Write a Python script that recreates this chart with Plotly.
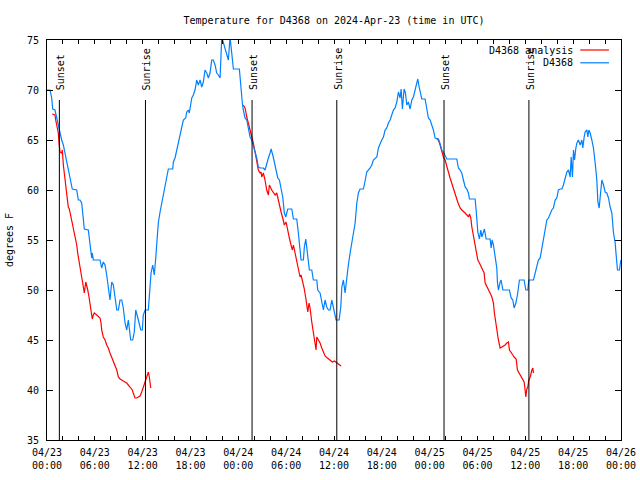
import pandas as pd
import plotly.graph_objects as go

# ---------------- data ----------------
start = pd.Timestamp("2024-04-23 00:00")

obs_hours = [0.00, 0.38, 0.59, 0.72, 1.00, 1.22, 1.42, 1.63, 1.84, 2.05, 2.26, 2.47, 2.67, 2.89, 3.17, 3.73,
             3.93, 4.14, 4.35, 4.48, 4.68, 5.18, 5.40, 5.61, 5.68, 5.81, 6.65, 6.86, 7.06, 7.28, 7.49, 7.69,
             7.90, 8.12, 8.32, 8.53, 8.75, 8.95, 9.16, 9.37, 9.57, 9.79, 10.00, 10.20, 10.41, 10.50, 10.75,
             10.95, 11.13, 11.25, 11.46, 11.76, 11.96, 12.08, 12.30, 12.71, 12.84, 13.05, 13.26, 13.46, 13.64,
             13.76, 13.96, 14.18, 14.39, 14.59, 14.81, 15.02, 15.22, 15.77, 15.85, 16.06, 16.27, 16.47, 16.69,
             16.90, 17.10, 17.40, 17.53, 17.73, 17.85, 18.16, 18.36, 18.57, 18.78, 18.98, 19.20, 19.41, 19.61,
             19.82, 20.04, 20.24, 20.45, 20.66, 20.86, 21.08, 21.29, 21.49, 21.71, 21.92, 22.12, 22.33, 22.46,
             22.75, 22.96, 23.17, 23.38, 24.13, 24.34, 24.50, 24.62, 24.84, 25.06, 25.26, 25.47, 25.68, 25.88,
             26.10, 26.31, 26.51, 26.73, 27.14, 27.35, 27.56, 27.77, 27.98, 28.11, 28.32, 28.52, 28.73, 28.95,
             29.15, 29.36, 29.57, 29.77, 29.95, 30.20, 30.70, 30.91, 31.33, 31.53, 31.74, 31.87, 32.16, 32.28,
             32.46, 32.58, 32.79, 32.91, 33.21, 33.41, 33.84, 33.96, 34.25, 34.47, 34.67, 34.88, 35.09, 35.30,
             35.51, 35.72, 35.92, 36.14, 36.26, 36.64, 36.85, 36.98, 37.18, 37.39, 37.60, 37.80, 38.02, 38.23,
             38.43, 38.65, 38.86, 39.06, 39.27, 39.69, 39.90, 40.11, 40.53, 40.74, 40.94, 41.16, 41.37, 41.57,
             41.78, 41.99, 42.20, 42.41, 42.62, 42.82, 43.04, 43.25, 43.45, 43.66, 43.88, 44.08, 44.29, 44.42,
             44.58, 44.79, 44.96, 45.13, 45.33, 45.55, 45.76, 45.96, 46.17, 46.39, 46.51, 46.68, 46.89, 47.01,
             47.43, 47.64, 47.84, 48.06, 48.27, 48.47, 48.68, 49.10, 49.31, 49.52, 49.72, 50.15, 51.40, 51.61,
             51.82, 52.03, 52.23, 52.45, 52.66, 52.86, 52.99, 53.70, 53.83, 53.91, 54.04, 54.24, 54.42, 54.54,
             54.74, 54.87, 55.08, 55.58, 55.71, 55.83, 56.00, 56.21, 56.42, 56.50, 56.62, 56.84, 56.96, 57.18,
             58.00, 58.22, 58.43, 58.59, 58.81, 59.01, 59.26, 59.85, 60.06, 60.31, 60.44, 61.02, 61.23, 61.44,
             61.64, 61.86, 62.07, 62.27, 62.48, 62.70, 62.90, 63.11, 63.32, 63.52, 63.74, 63.95, 64.15, 64.37,
             64.58, 64.78, 64.99, 65.20, 65.41, 65.62, 65.75, 65.91, 66.04, 66.17, 66.34, 66.47, 66.66, 66.88,
             67.09, 67.21, 67.38, 67.50, 67.72, 67.84, 67.97, 68.13, 68.34, 68.54, 68.76, 68.97, 69.10, 69.26,
             69.39, 69.60, 69.81, 70.01, 70.22, 70.43, 70.64, 70.85, 71.06, 71.27, 71.39, 71.56, 71.81, 71.98]
obs_temp = [70.0, 70.0, 69.2, 68.1, 68.0, 67.2, 66.2, 65.5, 65.0, 64.5, 63.7, 62.8, 62.0, 61.0, 60.1, 60.0,
            59.0, 59.0, 58.7, 57.7, 56.1, 56.0, 54.5, 53.2, 53.7, 53.0, 53.0, 52.2, 52.8, 52.5, 51.5, 50.5,
            49.0, 50.8, 50.5, 49.3, 48.0, 48.0, 49.0, 49.0, 48.2, 46.7, 46.0, 47.0, 45.7, 45.0, 45.0,
            45.8, 48.0, 47.7, 47.0, 46.0, 46.0, 47.5, 48.0, 48.0, 49.5, 51.7, 52.5, 51.5, 53.2,
            54.5, 56.7, 57.8, 58.7, 59.7, 60.5, 61.3, 62.1, 62.1, 62.8, 63.2, 64.0, 64.5, 65.7,
            66.3, 67.0, 67.2, 67.8, 68.0, 67.7, 69.2, 69.5, 70.0, 71.0, 70.5, 71.0, 70.3, 70.8,
            72.0, 71.7, 71.2, 71.7, 73.0, 73.0, 72.5, 71.7, 71.5, 71.2, 75.3, 74.7, 74.2, 73.7,
            73.0, 75.3, 73.3, 72.1, 72.1, 69.8, 68.7, 68.0, 67.2, 67.0, 66.0, 65.3, 65.0, 64.3,
            63.8, 63.2, 62.3, 62.2, 62.2, 62.0, 62.7, 63.2, 63.7, 64.1, 63.5, 62.8, 62.0, 61.2,
            61.0, 60.2, 59.3, 57.7, 57.3, 58.1, 58.1, 57.1, 57.1, 55.7, 54.3, 53.0, 53.0, 54.3,
            55.1, 54.3, 53.3, 52.0, 52.0, 51.0, 51.0, 50.0, 49.7, 48.7, 48.0, 49.0, 48.3, 48.0,
            48.0, 49.0, 48.3, 47.3, 47.0, 47.0, 48.3, 50.3, 51.0, 49.7, 51.3, 52.5, 53.7, 54.7,
            55.7, 56.7, 58.7, 59.7, 60.1, 60.1, 60.9, 61.8, 62.2, 62.5, 63.0, 63.2, 63.3, 64.2,
            64.7, 65.0, 65.3, 66.0, 66.2, 66.7, 67.0, 67.5, 68.0, 68.2, 68.8, 69.8, 69.2, 70.1,
            68.1, 70.1, 69.7, 68.5, 68.8, 68.1, 69.0, 69.3, 70.1, 70.8, 71.1, 70.3, 69.5, 69.1,
            69.1, 68.2, 67.2, 67.0, 66.5, 66.0, 65.2, 65.1, 64.6, 64.0, 63.8, 63.1, 63.1, 62.2,
            62.0, 61.7, 61.0, 60.3, 60.1, 59.7, 59.1, 59.1, 58.0, 57.0, 55.8, 55.1, 56.0, 55.3,
            55.7, 56.1, 55.1, 55.1, 54.2, 55.0, 54.5, 53.5, 52.2, 50.8, 50.0, 50.8, 51.0, 50.0,
            50.0, 49.2, 49.0, 48.2, 48.7, 49.5, 51.0, 51.0, 50.0, 50.0, 51.0, 51.0, 51.7, 52.3,
            53.0, 53.2, 54.2, 54.7, 55.7, 57.0, 57.2, 57.7, 58.0, 58.2, 59.0, 59.2, 60.0, 60.1,
            60.1, 60.5, 61.3, 61.8, 62.0, 61.3, 63.3, 61.3, 64.0, 63.0, 64.2, 64.7, 65.0, 64.5,
            65.0, 64.2, 65.3, 65.8, 66.0, 65.3, 66.0, 65.7, 65.0, 64.2, 62.7, 61.0, 58.8, 58.2,
            59.3, 61.0, 60.5, 59.8, 59.7, 59.2, 58.3, 57.7, 55.7, 54.7, 53.5, 52.0, 52.0, 53.0]

ana_hours = [0.66, 1.00, 1.09, 1.22, 1.42, 1.51, 1.63, 1.84, 1.92, 2.05, 2.26, 2.47, 2.67, 2.80, 3.01, 3.17,
             3.30, 3.43, 3.60, 3.73, 3.85, 4.02, 4.14, 4.27, 4.35, 4.48, 4.56, 4.68, 4.86, 4.98, 5.11, 5.27,
             5.40, 5.52, 5.68, 5.81, 5.93, 6.24, 6.52, 6.65, 6.78, 6.86, 7.06, 7.28, 7.49, 7.69, 7.90, 8.12,
             8.32, 8.53, 8.75, 8.95, 9.16, 9.57, 10.00, 10.41, 10.70, 10.82, 11.04, 11.25, 11.67, 11.88, 12.08,
             12.30, 12.51, 12.71, 12.84, 12.92, 13.01,
             None,
             24.63, 24.84, 25.06, 25.26, 25.47, 25.68, 25.88, 26.10, 26.31, 26.51, 26.73, 26.85, 26.94, 27.14,
             27.35, 27.56, 27.77, 27.89, 28.19, 28.39, 28.61, 28.82, 28.95, 29.15, 29.36, 29.57, 29.77, 29.99,
             30.20, 30.40, 30.61, 30.78, 30.91, 31.12, 31.33, 31.53, 31.74, 31.87, 32.08, 32.25, 32.46, 32.58,
             32.71, 32.87, 33.00, 33.21, 33.41, 33.63, 33.75, 33.84, 34.04, 34.25, 34.47, 34.67, 34.88, 35.17,
             35.51, 35.80, 36.05, 36.35, 36.64, 36.89,
             None,
             48.90, 49.10, 49.31, 49.52, 49.72, 49.94, 50.15, 50.35, 50.56, 50.78, 50.98, 51.19, 51.40, 51.61,
             51.82, 52.03, 52.23, 52.45, 52.66, 52.86, 52.99, 53.16, 53.29, 53.49, 53.61, 53.79, 53.91, 54.04,
             54.24, 54.45, 54.67, 54.83, 54.96, 55.17, 55.37, 55.58, 55.80, 56.00, 56.12, 56.30, 56.42, 56.62,
             56.84, 57.05, 57.25, 57.47, 57.68, 57.88, 58.01, 58.22, 58.43, 58.59, 58.85, 59.01, 59.22, 59.43,
             59.64, 59.85, 59.97, 60.06, 60.19, 60.31, 60.44, 60.61, 60.82, 60.94, 61.02]
ana_temp = [67.6, 67.5, 67.0, 66.3, 65.7, 64.7, 63.8, 63.7, 64.0, 62.5, 61.0, 59.7, 58.3, 58.1, 57.3, 56.8,
            56.3, 55.8, 55.3, 54.5, 53.7, 53.0, 52.3, 51.8, 51.3, 50.7, 50.2, 49.7, 50.8, 50.5, 50.0, 49.3,
            48.5, 47.8, 47.1, 47.5, 47.7, 47.5, 47.3, 47.2, 46.7, 46.0, 45.3, 45.0, 44.5, 44.2, 43.7, 43.3,
            42.8, 42.5, 42.0, 41.3, 41.1, 40.9, 40.7, 40.3, 40.0, 39.7, 39.2, 39.2, 39.4, 39.8, 40.2,
            40.8, 41.3, 41.8, 41.3, 40.7, 40.2,
            None,
            68.5, 68.2, 67.3, 66.7, 66.0, 65.3, 64.7, 63.8, 62.8, 62.0, 61.7, 61.8, 61.3, 61.7,
            61.0, 60.0, 59.5, 60.5, 60.0, 59.8, 59.5, 59.7, 59.2, 58.5, 57.8, 57.2, 56.5, 56.8,
            55.8, 55.2, 54.5, 54.0, 54.5, 53.7, 53.0, 52.2, 51.3, 51.5, 50.8, 50.2, 49.2, 48.5,
            47.8, 48.7, 48.2, 46.8, 45.7, 44.7, 44.0, 45.3, 45.0, 44.7, 44.2, 43.7, 43.4, 43.2,
            43.0, 42.8, 42.9, 42.7, 42.6, 42.4,
            None,
            65.1, 65.0, 64.5, 63.8, 63.3, 63.0, 62.5, 61.8, 61.2, 60.6, 60.2, 59.6, 59.1, 58.6,
            58.2, 58.0, 57.8, 57.7, 57.5, 57.3, 57.6, 57.2, 56.3, 55.5, 55.0, 54.3, 53.7, 53.0,
            52.7, 52.3, 52.0, 51.7, 50.7, 50.3, 50.0, 49.7, 49.3, 48.7, 47.7, 46.7, 46.0, 45.0,
            44.2, 44.3, 44.4, 44.5, 44.7, 44.8, 44.0, 43.8, 43.5, 43.3, 43.1, 42.0, 41.7, 41.5,
            41.2, 40.8, 40.0, 39.3, 40.1, 40.3, 41.0, 41.3, 42.0, 42.2, 41.7]

sun_hours = [1.55, 12.35, 25.72, 36.35, 49.80, 60.45]
sun_labels = ["Sunset", "Sunrise", "Sunset", "Sunrise", "Sunset", "Sunrise"]

tick_hours = list(range(0, 73, 2))
y_ticks = [35, 40, 45, 50, 55, 60, 65, 70, 75]

title_text = "Temperature for D4368 on 2024-Apr-23 (time in UTC)"
series_names = ["D4368 analysis", "D4368"]
series_colors = ["#ff0000", "#0080ff"]

# ---------------- build ----------------
def to_time(hours):
    return [None if h is None else start + pd.Timedelta(hours=h) for h in hours]

FONT = "DejaVu Sans Mono"

fig = go.Figure()
fig.add_trace(go.Scatter(x=to_time(ana_hours), y=ana_temp, mode="lines", name=series_names[0],
                         line=dict(color=series_colors[0], width=1.2), connectgaps=False,
                         showlegend=False))
fig.add_trace(go.Scatter(x=to_time(obs_hours), y=obs_temp, mode="lines", name=series_names[1],
                         line=dict(color=series_colors[1], width=1.2), showlegend=False))

tickvals = to_time(tick_hours)
ticktext = []
for h in tick_hours:
    t = start + pd.Timedelta(hours=h)
    ticktext.append(t.strftime("%m/%d<br>%H:%M") if h % 6 == 0 else "")

shapes = []
annotations = []
for h, lab in zip(sun_hours, sun_labels):
    t = start + pd.Timedelta(hours=h)
    shapes.append(dict(type="line", xref="x", yref="y domain", x0=t, x1=t, y0=0, y1=0.85,
                       line=dict(color="black", width=1)))
    annotations.append(dict(x=t, xref="x", y=0.87, yref="y domain", text=lab, textangle=-90,
                            showarrow=False, xanchor="center", yanchor="bottom", xshift=1,
                            font=dict(family=FONT, size=10, color="black")))

# legend (gnuplot style: text right-aligned, sample on the right)
leg_rows = [0.975, 0.943]
for name, col, yy in zip(series_names, series_colors, leg_rows):
    annotations.append(dict(x=0.919, xref="paper", y=yy, yref="paper", text=name, showarrow=False,
                            xanchor="right", yanchor="middle",
                            font=dict(family=FONT, size=10, color="black")))
    shapes.append(dict(type="line", xref="paper", yref="paper", x0=0.929, x1=0.979, y0=yy, y1=yy,
                       line=dict(color=col, width=1.2)))

annotations.append(dict(x=-0.066, xref="paper", y=0.5, yref="paper", text="degrees F", textangle=-90,
                        showarrow=False, xanchor="center", yanchor="middle",
                        font=dict(family=FONT, size=10, color="black")))

fig.update_layout(
    width=640, height=480,
    margin=dict(l=47, r=19, t=40, b=40, pad=0, autoexpand=False),
    paper_bgcolor="white", plot_bgcolor="white",
    font=dict(family=FONT, size=10, color="black"),
    title=dict(text=title_text, x=0.5, xref="paper", xanchor="center", y=1 - 20 / 480,
               yref="container", yanchor="middle",
               font=dict(family=FONT, size=10, color="black")),
    shapes=shapes, annotations=annotations,
    showlegend=False,
)
fig.update_xaxes(type="date", range=[start, start + pd.Timedelta(hours=72)],
                 tickmode="array", tickvals=tickvals, ticktext=ticktext,
                 ticks="inside", ticklen=4, tickcolor="black", tickwidth=1,
                 showline=True, linecolor="black", linewidth=1, mirror="ticks",
                 showgrid=False, zeroline=False, ticklabelstandoff=3, automargin=False,
                 tickfont=dict(family=FONT, size=10, color="black"))
fig.update_yaxes(range=[35, 75], tickmode="array", tickvals=y_ticks,
                 ticks="inside", ticklen=6, tickcolor="black", tickwidth=1,
                 showline=True, linecolor="black", linewidth=1, mirror="ticks",
                 showgrid=False, zeroline=False, ticklabelstandoff=5, automargin=False,
                 tickfont=dict(family=FONT, size=10, color="black"))

fig.write_html("out.html", config={"displayModeBar": False},
               post_script="document.body.style.margin='0';")
